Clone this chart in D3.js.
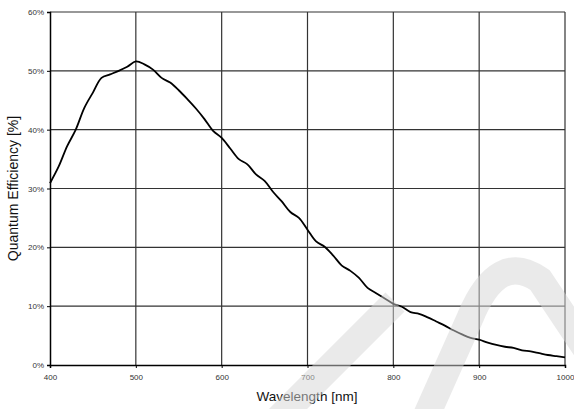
<!DOCTYPE html>
<html>
<head>
<meta charset="utf-8">
<script src="https://cdn.jsdelivr.net/npm/d3@7"></script>
<style>
  html, body { margin: 0; padding: 0; background: #fff; }
  svg { display: block; }
  text { font-family: "Liberation Sans", Arial, sans-serif; }
</style>
</head>
<body>
<svg id="chart" width="574" height="409"></svg>
<script>
// Data
const wavelengths = [400,410,420,430,440,450,460,470,480,490,500,510,520,530,540,550,560,570,580,590,600,610,620,630,640,650,660,670,680,690,700,710,720,730,740,750,760,770,780,790,800,810,820,830,840,850,860,870,880,890,900,910,920,930,940,950,960,970,980,990,1000];
const efficiency = [30.9,33.7,37.2,40.0,43.7,46.3,48.8,49.4,50.0,50.7,51.6,51.1,50.2,48.8,48.0,46.7,45.2,43.6,41.8,39.8,38.6,36.8,35.0,34.1,32.4,31.3,29.4,27.8,26.0,25.0,23.0,21.0,20.1,18.6,16.9,16.0,14.8,13.1,12.2,11.3,10.4,9.9,9.0,8.7,8.1,7.4,6.7,5.9,5.2,4.6,4.3,3.8,3.4,3.1,2.9,2.5,2.3,2.0,1.7,1.5,1.3];
const xTicks = [400,500,600,700,800,900,1000];
const yTicks = [0,10,20,30,40,50,60];
const xTitle = "Wavelength [nm]";
const yTitle = "Quantum Efficiency [%]";

const svg = d3.select("#chart");
const mLeft = 50, mRight = 565, mTop = 12, mBottom = 365;

const x = d3.scaleLinear().domain([400, 1000]).range([mLeft, mRight]);
const y = d3.scaleLinear().domain([0, 60]).range([mBottom, mTop]);

// grid
const grid = svg.append("g");
grid.selectAll(".vg").data(xTicks.slice(1)).join("line")
  .attr("x1", d => x(d)).attr("x2", d => x(d))
  .attr("y1", mTop).attr("y2", mBottom)
  .attr("stroke", "#333").attr("stroke-width", 1.2);
grid.selectAll(".hg").data(yTicks.slice(1)).join("line")
  .attr("x1", mLeft).attr("x2", mRight)
  .attr("y1", d => y(d)).attr("y2", d => y(d))
  .attr("stroke", "#333").attr("stroke-width", 1.2);

// axes
const xAxis = d3.axisBottom(x).tickValues(xTicks).tickSize(3).tickFormat(d3.format("d"));
const yAxis = d3.axisLeft(y).tickValues(yTicks).tickSize(3).tickFormat(d => d + "%");

const gx = svg.append("g").attr("transform", `translate(0,${mBottom})`).call(xAxis);
const gy = svg.append("g").attr("transform", `translate(${mLeft},0)`).call(yAxis);
[gx, gy].forEach(g => {
  g.select(".domain").attr("stroke", "#000").attr("stroke-width", 1.5);
  g.selectAll(".tick line").attr("stroke", "#000");
  g.selectAll(".tick text").attr("font-size", 8).attr("fill", "#333")
    .attr("font-family", "'Liberation Sans', Arial, sans-serif");
});
gx.selectAll(".tick text").attr("dy", "0.71em").attr("y", 9);
gy.selectAll(".tick text").attr("x", -6);

// curve
const line = d3.line()
  .x((d, i) => x(wavelengths[i]))
  .y(d => y(d))
  .curve(d3.curveCatmullRom.alpha(0.5));
svg.append("path").datum(efficiency)
  .attr("d", line)
  .attr("fill", "none")
  .attr("stroke", "#000")
  .attr("stroke-width", 1.8);

// titles
svg.append("text").attr("x", 307).attr("y", 401)
  .attr("text-anchor", "middle").attr("font-size", 13.5).attr("fill", "#111")
  .text(xTitle);
svg.append("text")
  .attr("transform", `translate(18,${(mTop + mBottom) / 2}) rotate(-90)`)
  .attr("text-anchor", "middle").attr("font-size", 14).attr("fill", "#111")
  .text(yTitle);

// faint watermark overlay
const wm = svg.append("g").attr("fill", "none").attr("stroke", "#d6d6d6")
  .attr("stroke-opacity", 0.5).attr("stroke-width", 27).attr("stroke-linecap", "butt");
wm.append("path").attr("d", "M272,425 L395,302");
wm.append("path").attr("d", "M420,430 L470,318 Q498,250 540,280 L600,370");
</script>
</body>
</html>
